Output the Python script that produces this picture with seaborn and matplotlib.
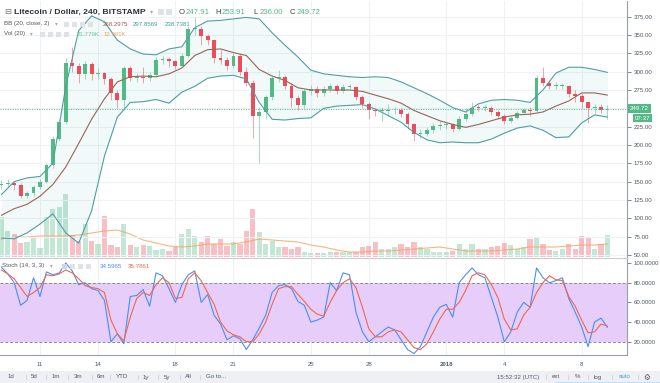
import pandas as pd
import matplotlib
matplotlib.use("Agg")
import matplotlib.pyplot as plt
import matplotlib.dates as mdates
from matplotlib.patches import Rectangle
import seaborn as sns

sns.set_style("white")
plt.rcParams['font.family'] = ['Liberation Sans', 'DejaVu Sans']

# --> LTC/USD Bitstamp (8h candles) <-- #
times = pd.date_range("2017-12-09 00:00", periods=95, freq="8h")

closes = [147, 148, 146, 131, 134, 142, 150, 172, 208, 231,
          312, 308, 297, 310, 297, 298, 290, 271, 262, 305,
          292, 293, 292, 296, 316, 317, 314, 308, 322, 358,
          358, 348, 343, 318, 316, 308, 322, 300, 285, 240,
          245, 265, 292, 293, 280, 264, 255, 274, 277, 271,
          276, 280, 274, 279, 279, 265, 256, 247, 246, 246,
          247, 247, 242, 228, 215, 215, 220, 226, 227, 228,
          222, 236, 242, 251, 250, 251, 245, 240, 232, 237,
          244, 248, 246, 291, 285, 281, 281, 281, 270, 267,
          258, 250, 252, 247.91, 249.72]
highs = [152, 153, 150, 148, 137, 145, 153, 175, 212, 236,
         318, 333, 312, 315, 313, 305, 300, 293, 275, 308,
         308, 298, 306, 300, 320, 322, 320, 316, 326, 362,
         374, 362, 352, 345, 330, 320, 326, 324, 306, 288,
         252, 268, 296, 302, 296, 284, 268, 278, 282, 281,
         280, 284, 283, 283, 283, 281, 268, 258, 250, 252,
         256, 252, 250, 245, 230, 222, 224, 230, 232, 232,
         230, 240, 250, 258, 254, 255, 253, 248, 242, 240,
         246, 251, 252, 296, 306, 288, 286, 285, 282, 275,
         270, 260, 256, 256, 253.91]
lows = [140, 143, 138, 128, 128, 131, 140, 148, 168, 205,
        229, 300, 285, 290, 288, 290, 283, 262, 250, 247,
        287, 286, 285, 287, 293, 311, 307, 303, 306, 320,
        350, 336, 336, 312, 310, 302, 305, 296, 280, 209,
        175, 236, 262, 286, 276, 252, 248, 250, 268, 266,
        267, 272, 270, 271, 275, 262, 250, 236, 240, 232,
        240, 242, 238, 222, 205, 210, 212, 216, 221, 222,
        218, 220, 233, 240, 246, 246, 241, 236, 229, 230,
        235, 242, 240, 244, 280, 277, 277, 276, 266, 258,
        250, 230, 244, 243, 236]
opens = [145] + closes[:-1]

volume = [40, 26, 23, 14, 15, 20, 9, 40, 48, 50,
          63, 22, 16, 33, 16, 13, 41, 12, 10, 33,
          12, 10, 12, 11, 7, 8, 6, 10, 23, 28,
          21, 15, 21, 13, 18, 11, 15, 13, 26, 48,
          25, 13, 16, 10, 10, 8, 10, 5, 4, 4,
          4, 5, 5, 5, 5, 5, 10, 11, 15, 8,
          8, 10, 13, 10, 15, 10, 8, 5, 5, 5,
          6, 13, 8, 13, 8, 8, 10, 11, 14, 12,
          8, 10, 18, 20, 13, 7, 6, 8, 13, 8,
          21, 20, 8, 13, 22]

# bands / volume MA read every second candle
band_times = times[::2]
bb_upper = [132, 150, 155, 157, 175, 280, 356, 376, 368, 343, 331, 324,
            323, 331, 334, 360, 369, 370, 372, 374, 372, 353, 336, 320,
            302, 297, 295, 293, 292, 293, 292, 286, 278, 270, 261, 251,
            245, 256, 261, 262, 261, 258, 275, 298, 306, 306, 303, 299]
bb_mid = [104, 113, 119, 130, 146, 170, 202, 235, 263, 286, 293, 294,
          293, 297, 305, 322, 330, 331, 326, 322, 303, 294, 288, 278,
          275, 275, 275, 275, 273, 268, 263, 257, 247, 240, 233, 228,
          224, 228, 233, 238, 241, 242, 245, 253, 260, 271, 271, 268]
bb_lower = [73, 72, 80, 92, 106, 80, 66, 110, 185, 238, 258, 259,
            262, 257, 272, 280, 291, 294, 295, 290, 258, 235, 234, 236,
            237, 250, 253, 254, 255, 249, 240, 231, 217, 207, 203, 204,
            203, 203, 208, 216, 223, 226, 220, 210, 211, 230, 241, 238]
vol_ma = [18, 20, 20, 21, 21, 21, 22, 24, 26, 27, 23, 17,
          14, 11, 10, 11, 13, 13, 13, 15, 18, 17, 16, 15,
          12, 10, 7, 5, 5, 6, 6, 7, 8, 9, 10, 8,
          6, 6, 6, 7, 8, 10, 10, 10, 11, 12, 12, 13]

stoch_k = [96, 89, 80, 57, 62, 85, 66, 91, 88, 90,
           100, 92, 78, 80, 74, 72, 62, 20, 28, 18,
           66, 67, 73, 56, 90, 87, 74, 60, 78, 88,
           92, 60, 68, 47, 38, 22, 26, 23, 12, 22,
           34, 47, 70, 77, 78, 74, 61, 57, 40, 42,
           45, 80, 72, 90, 88, 50, 30, 20, 25, 30,
           35, 32, 22, 12, 8, 15, 30, 45, 55, 58,
           45, 80, 88, 95, 88, 85, 65, 45, 20, 30,
           50, 60, 55, 95, 85, 80, 82, 85, 64, 50,
           35, 15, 40, 44, 34.6]
stoch_d = [93, 89, 84, 75, 66, 70, 75, 88, 87, 89,
           93, 90, 84, 77, 75, 74, 70, 42, 28, 21,
           45, 64, 70, 67, 78, 85, 80, 64, 65, 84,
           90, 82, 70, 58, 40, 31, 27, 25, 20, 20,
           28, 40, 58, 74, 76, 76, 68, 61, 53, 48,
           46, 60, 72, 80, 84, 75, 55, 33, 25, 25,
           30, 32, 30, 22, 14, 12, 18, 30, 43, 53,
           53, 60, 72, 87, 90, 88, 78, 65, 43, 32,
           33, 47, 55, 70, 80, 87, 83, 82, 66, 56,
           42, 29, 30, 38, 35.8]

tick_dates = pd.to_datetime(['2017-12-11', '2017-12-14', '2017-12-18', '2017-12-21',
                             '2017-12-25', '2017-12-28', '2018-01-01', '2018-01-04',
                             '2018-01-08'])
tick_labels = ['11', '14', '18', '21', '25', '28', '2018', '4', '8']
price_ticks = list(range(50, 376, 25))
stoch_ticks = [20, 40, 60, 80, 100]

GREEN = '#53b987'
RED = '#eb4d5c'
TEAL = '#4f9fa3'
GRID = '#eef1f6'
AXC = '#4f5966'

W, H = 660, 383
fig = plt.figure(figsize=(W / 100, H / 100), dpi=100)


def rect(x0, y0, x1, y1):
    return [x0 / W, 1 - y1 / H, (x1 - x0) / W, (y1 - y0) / H]


def txt(x, y, s, **kw):
    kw.setdefault('va', 'center')
    kw.setdefault('fontsize', 4.4)
    kw.setdefault('color', AXC)
    return fig.text(x / W, 1 - y / H, s, **kw)


def icon(x, y, s=6, fc='#dfe2e6'):
    fig.patches.append(Rectangle((x / W, 1 - (y + s / 2) / H), s / W, s / H,
                                 transform=fig.transFigure, fc=fc, ec='none'))


x0 = mdates.date2num(pd.Timestamp('2017-12-09')) - 0.067
x1 = x0 + 32.41

vol_ax = fig.add_axes(rect(0, 1, 627, 257))
ax = fig.add_axes(rect(0, 1, 627, 257))
st = fig.add_axes(rect(0, 258, 627, 355))
ax.set_facecolor('none')

up = [c >= o for o, c in zip(opens, closes)]
cols = [GREEN if u else RED for u in up]

#--> volume <--#
vol_ax.bar(times, volume, width=0.27, color=cols, alpha=0.35, linewidth=0)
sns.lineplot(x=band_times, y=vol_ma, ax=vol_ax, color='#f7a35c', lw=0.8, alpha=0.8)
vol_ax.set_ylim(0, 256)
vol_ax.set_xlim(x0, x1)
vol_ax.set_xticks([])
vol_ax.set_yticks([])
for s in vol_ax.spines.values():
    s.set_visible(False)
for d in tick_dates:
    vol_ax.axvline(d, color=GRID, lw=0.8, zorder=0)

#--> price pane <--#
for p in price_ticks:
    ax.axhline(p, color=GRID, lw=0.8, zorder=0)
ax.fill_between(band_times, bb_lower, bb_upper, color='#1a9c9c', alpha=0.06, lw=0)
sns.lineplot(x=band_times, y=bb_upper, ax=ax, color=TEAL, lw=0.8)
sns.lineplot(x=band_times, y=bb_lower, ax=ax, color=TEAL, lw=0.8)
sns.lineplot(x=band_times, y=bb_mid, ax=ax, color='#9a6457', lw=0.8)

ax.vlines(times, lows, highs, colors=cols, lw=0.6, alpha=0.6)
bodies = [max(abs(c - o), 1.2) for o, c in zip(opens, closes)]
bottoms = [min(o, c) for o, c in zip(opens, closes)]
ax.bar(times, bodies, bottom=bottoms, width=0.2, color=cols, linewidth=0)
ax.axhline(closes[-1], color=GREEN, lw=0.7, ls=(0, (1, 1.5)))

ax.set_xlim(x0, x1)
ax.set_ylim(47.1, 396.4)
ax.yaxis.tick_right()
ax.set_yticks(price_ticks)
# the 250 label sits under the last-price tag
ax.set_yticklabels(['' if p == 250 else f'{p:.2f}' for p in price_ticks])
ax.set_xticks([])
ax.tick_params(axis='y', labelsize=4.4, colors=AXC, length=3, width=0.5, pad=2)
ax.set_ylabel('')
ax.set_xlabel('')
for k in ['top', 'left', 'bottom']:
    ax.spines[k].set_visible(False)
ax.spines['right'].set_color('#9aa0a8')
ax.spines['right'].set_linewidth(0.8)

#--> stochastic pane <--#
st.axhspan(20, 80, color='#e6cdfa', lw=0)
for d in tick_dates:
    st.axvline(d, color=GRID, lw=0.8, zorder=0)
st.axhline(80, color='#8a8a8a', lw=0.7, ls=(0, (3, 2)))
st.axhline(20, color='#8a8a8a', lw=0.7, ls=(0, (3, 2)))
sns.lineplot(x=times, y=stoch_k, ax=st, color='#4a8ff0', lw=0.8)
sns.lineplot(x=times, y=stoch_d, ax=st, color='#f2674b', lw=0.8)
st.set_xlim(x0, x1)
st.set_ylim(6.5, 105.1)
st.yaxis.tick_right()
st.set_yticks(stoch_ticks)
st.set_yticklabels([f'{v:.4f}' for v in stoch_ticks])
st.set_xticks(tick_dates)
st.set_xticklabels(tick_labels)
for lab in st.get_xticklabels():
    if lab.get_text() == '2018':
        lab.set_fontweight('bold')
st.tick_params(axis='y', labelsize=4.4, colors=AXC, length=3, width=0.5, pad=2)
st.tick_params(axis='x', labelsize=4.4, colors=AXC, length=2, width=0.5, pad=3)
st.set_ylabel('')
st.set_xlabel('')
st.spines['top'].set_color('#c9ccd2')
st.spines['left'].set_visible(False)
for k in ['right', 'bottom']:
    st.spines[k].set_color('#9aa0a8')
    st.spines[k].set_linewidth(0.8)

#--> legends / labels <--#
txt(4, 12, '⊟', fontsize=6, color='#777', family='DejaVu Sans')
txt(14, 12, 'Litecoin / Dollar, 240, BITSTAMP', fontsize=6.1, color='#2e3140', fontweight='bold')
txt(150, 12, '▾', fontsize=4.5, color='#aaa', family='DejaVu Sans')
icon(158, 12)
icon(166, 12)
ohlc = [('O', '247.91', 179), ('H', '253.91', 215), ('L', '236.00', 253), ('C', '249.72', 290)]
for k, v, xx in ohlc:
    txt(xx, 12, k, fontsize=5.6, color='#444')
    txt(xx + 6.5, 12, v, fontsize=5.6, color=GREEN)

txt(4, 24, 'BB (20, close, 2)', color='#555')
txt(55, 24, '▾', fontsize=4, color='#aaa', family='DejaVu Sans')
for xx in [64, 72, 80, 88]:
    icon(xx, 24, 5)
txt(103, 24, '268.2975', color='#9a5a50')
txt(133, 24, '297.8569', color='#3f9a9a')
txt(165, 24, '238.7381', color='#3f9a9a')

txt(4, 34, 'Vol (20)', color='#555')
txt(30, 34, '▾', fontsize=4, color='#aaa', family='DejaVu Sans')
for xx in [40, 48, 56, 64]:
    icon(xx, 34, 5)
txt(77, 34, '21.779K', color='#6fc49a')
txt(104, 34, '12.901K', color='#f7a35c')

txt(2, 266, 'Stoch (14, 3, 3)', color='#555')
txt(50, 266, '▾', fontsize=4, color='#aaa', family='DejaVu Sans')
icon(62, 266, 5, fc='#bfdcf7')
for xx in [70, 78, 86]:
    icon(xx, 266, 5)
txt(100, 266, '34.5965', color='#4a8ff0')
txt(128, 266, '35.7861', color='#f2674b')

# current price tags
txt(630, 108.3, '249.72', color='white',
    bbox=dict(boxstyle='square,pad=0.3', fc=GREEN, ec='none'))
txt(635, 118, '07:37', color='white',
    bbox=dict(boxstyle='square,pad=0.3', fc=GREEN, ec='none'))

#--> bottom toolbar <--#
fig.patches.append(Rectangle((0, 0), 1, 12 / H, transform=fig.transFigure,
                             fc='#eef0f3', ec='none'))
fig.patches.append(Rectangle((555 / W, 0), 105 / W, 1.5 / H, transform=fig.transFigure,
                             fc='#bfe0f5', ec='none'))
left_items = [('1d', 8), ('5d', 31), ('1m', 52), ('3m', 74), ('6m', 97), ('YTD', 116),
              ('1y', 143), ('5y', 164), ('All', 185), ('Go to...', 206)]
for i, (s, xx) in enumerate(left_items):
    txt(xx, 377, s)
    if i < len(left_items) - 1:
        txt(left_items[i + 1][1] - 6, 377, '|', color='#c0c4ca')
txt(497, 377, '15:52:32 (UTC)')
for s, xx in [('|', 545), ('ext', 552), ('|', 568), ('%', 575), ('|', 588),
              ('log', 594), ('|', 612)]:
    txt(xx, 377, s, color='#c0c4ca' if s == '|' else AXC)
txt(619, 377, 'auto', color='#3ca3e0')
txt(637, 377, '|', color='#c0c4ca')
txt(643, 377, '⚙', fontsize=5.5, family='DejaVu Sans')

fig.savefig('out.png', dpi=100)
